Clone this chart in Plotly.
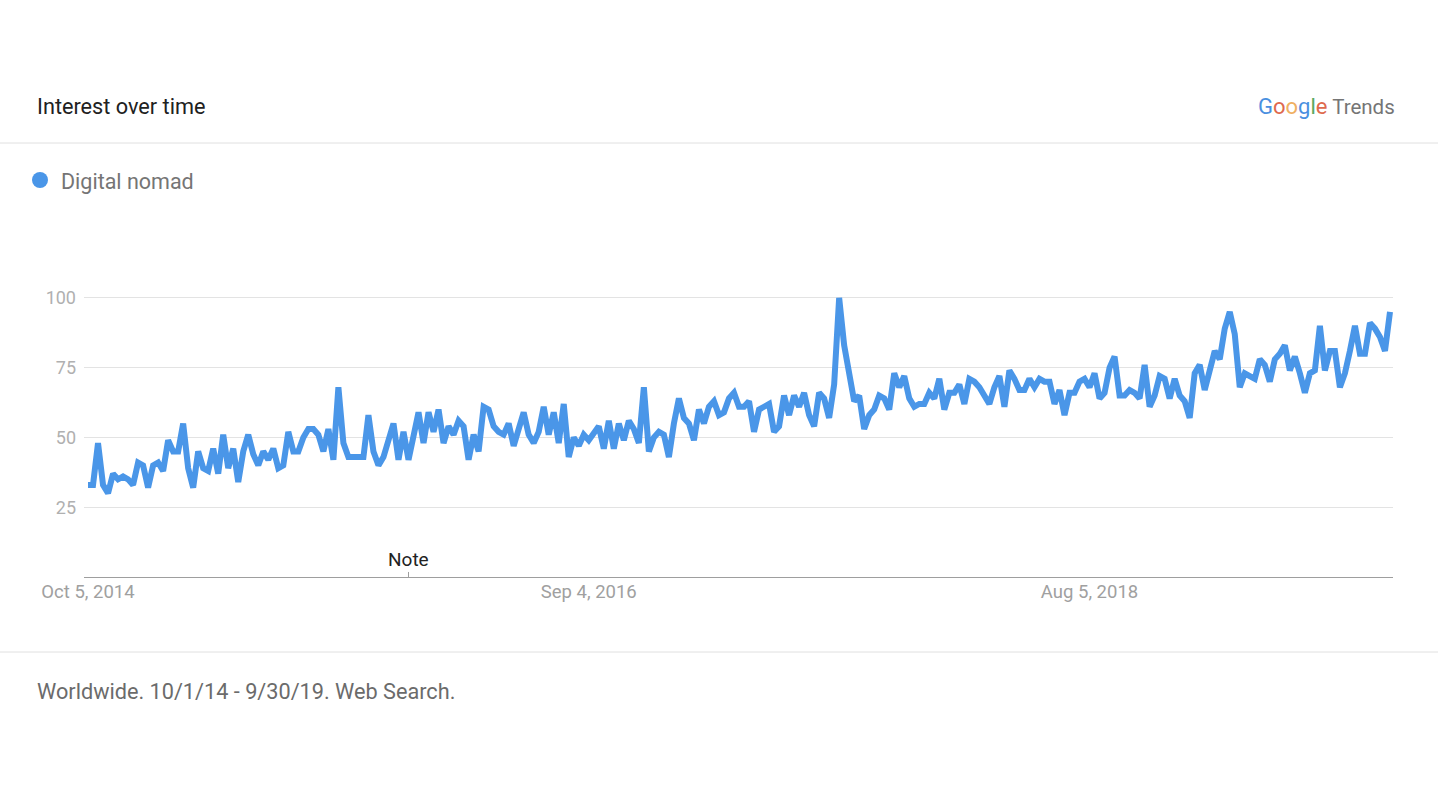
import pandas as pd
import plotly.graph_objects as go

# ---------------- data ----------------
start_date = "2014-10-05"
series_name = "Digital nomad"
values = [
    33, 33, 48, 33, 30, 37, 35, 36, 35, 33, 41, 40, 32, 40, 41, 38, 49, 45, 45, 55,
    39, 32, 45, 39, 38, 46, 37, 51, 39, 46, 34, 45, 51, 44, 40, 45, 42, 46, 39, 40,
    52, 45, 45, 50, 53,
    53, 51, 45, 53, 42, 68, 48, 43, 43, 43, 43, 58, 45, 40, 43, 49, 55, 42, 52, 42,
    50, 59, 48, 59, 52, 60, 48, 54, 51, 56, 54, 42, 51, 45, 61, 60, 54, 52, 51, 55,
    47, 54, 59, 51,
    48, 52, 61, 51, 59, 48, 62, 43, 50, 47, 51, 49, 52, 54, 46, 56, 46, 55, 49, 56,
    53, 48, 68, 45, 50, 52, 51, 43, 55, 64, 57, 55, 49, 60, 55, 61, 63, 58, 59, 64,
    66, 61, 61, 63,
    52, 60, 61, 62, 52, 54, 65, 58, 65, 61, 66, 58, 54, 66, 64, 57, 69, 100, 83, 73,
    63, 65, 53, 58, 60, 65, 64, 60, 73, 68, 72, 64, 61, 62, 62, 66, 64, 71, 60, 66,
    66, 69, 62, 71,
    70, 68, 65, 62, 68, 72, 61, 74, 71, 67, 67, 71, 68, 71, 70, 70, 62, 67, 58, 66,
    66, 70, 71, 68, 73, 64, 66, 75, 79, 65, 65, 67, 66, 64, 76, 61, 65, 72, 71, 64,
    71, 65, 63, 57,
    73, 76, 67, 74, 81, 78, 89, 95, 87, 68, 73, 72, 71, 78, 76, 70, 78, 80, 83, 74,
    79, 73, 66, 73, 74, 90, 74, 81, 81, 68, 73, 81, 90, 80, 80, 91, 89, 86, 81, 95,
]
dates = pd.date_range(start_date, periods=len(values), freq="7D")

x_tick_dates = ["2014-10-05", "2016-09-04", "2018-08-05"]
x_tick_labels = ["Oct 5, 2014", "Sep 4, 2016", "Aug 5, 2018"]
y_tick_vals = [25, 50, 75, 100]
y_tick_labels = ["25", "50", "75", "100"]
note_date = "2015-12-27"
note_text = "Note"
title_text = "Interest over time"
footer_text = "Worldwide. 10/1/14 - 9/30/19. Web Search."

# ---------------- layout geometry ----------------
W, H = 1438, 796
ML, MR, MT, MB = 84, 45, 270, 219
PW, PH = W - ML - MR, H - MT - MB


def px_x(px):
    return (px - ML) / PW


def px_y(py):
    return (H - MB - py) / PH


LINE_COLOR = "#4a96e8"
FONT = "Roboto"

x_left = dates[0] - pd.Timedelta(days=5.6)
x_right = dates[-1] + pd.Timedelta(days=4.2)

fig = go.Figure()
fig.add_trace(
    go.Scatter(
        x=dates,
        y=values,
        mode="lines",
        name=series_name,
        line=dict(color=LINE_COLOR, width=6),
        showlegend=False,
        hoverinfo="x+y",
    )
)

logo = (
    '<span style="font-size:22px">'
    '<span style="color:#4a8fe0">G</span>'
    '<span style="color:#de6a4e">o</span>'
    '<span style="color:#f0b062">o</span>'
    '<span style="color:#4a8fe0">g</span>'
    '<span style="color:#5aa85f">l</span>'
    '<span style="color:#de6a4e">e</span>'
    '</span>'
    '<span style="color:#757575"> Trends</span>'
)

annotations = [
    dict(x=px_x(35), y=px_y(106), xref="paper", yref="paper", text=title_text,
         showarrow=False, xanchor="left", yanchor="middle",
         font=dict(family=FONT, size=21.7, color="#212121")),
    dict(x=px_x(1397), y=px_y(106), xref="paper", yref="paper", text=logo,
         showarrow=False, xanchor="right", yanchor="middle",
         font=dict(family=FONT, size=20.5, color="#757575")),
    dict(x=px_x(59), y=px_y(181), xref="paper", yref="paper", text=series_name,
         showarrow=False, xanchor="left", yanchor="middle",
         font=dict(family=FONT, size=21.5, color="#757575")),
    dict(x=px_x(35), y=px_y(691), xref="paper", yref="paper", text=footer_text,
         showarrow=False, xanchor="left", yanchor="middle",
         font=dict(family=FONT, size=21.7, color="#6b6b6b")),
    dict(x=note_date, y=0, xref="x", yref="y", text=note_text,
         showarrow=False, xanchor="center", yanchor="bottom", yshift=4,
         font=dict(family=FONT, size=19, color="#222222")),
]

shapes = [
    dict(type="line", xref="paper", yref="paper", x0=px_x(0), x1=px_x(W),
         y0=px_y(143), y1=px_y(143), line=dict(color="#e0e0e0", width=1)),
    dict(type="line", xref="paper", yref="paper", x0=px_x(0), x1=px_x(W),
         y0=px_y(652), y1=px_y(652), line=dict(color="#e0e0e0", width=1)),
    dict(type="circle", xref="paper", yref="paper",
         x0=px_x(32), x1=px_x(48), y0=px_y(172), y1=px_y(188),
         fillcolor=LINE_COLOR, line=dict(color=LINE_COLOR, width=0)),
    dict(type="line", xref="x", yref="y", x0=note_date, x1=note_date,
         y0=0, y1=1.8, line=dict(color="#9e9e9e", width=1)),
]

fig.update_layout(
    width=W,
    height=H,
    margin=dict(l=ML, r=MR, t=MT, b=MB),
    paper_bgcolor="white",
    plot_bgcolor="white",
    font=dict(family=FONT),
    annotations=annotations,
    shapes=shapes,
    xaxis=dict(
        type="date",
        range=[x_left, x_right],
        tickvals=x_tick_dates,
        ticktext=x_tick_labels,
        showgrid=False,
        zeroline=False,
        showline=True,
        linecolor="#9e9e9e",
        linewidth=1,
        ticks="",
        ticklabelstandoff=-2,
        tickfont=dict(family=FONT, size=18.5, color="#a0a0a0"),
        fixedrange=True,
    ),
    yaxis=dict(
        range=[0, 110],
        tickvals=y_tick_vals,
        ticktext=y_tick_labels,
        showgrid=True,
        gridcolor="#e3e3e3",
        gridwidth=1,
        zeroline=False,
        showline=False,
        ticks="",
        ticklabelstandoff=7,
        tickfont=dict(family=FONT, size=18, color="#b0b0b0"),
        fixedrange=True,
    ),
)

fig.write_html(
    "out.html",
    config={"displayModeBar": False},
    post_script="document.body.style.margin='0';document.body.style.overflow='hidden';",
)
